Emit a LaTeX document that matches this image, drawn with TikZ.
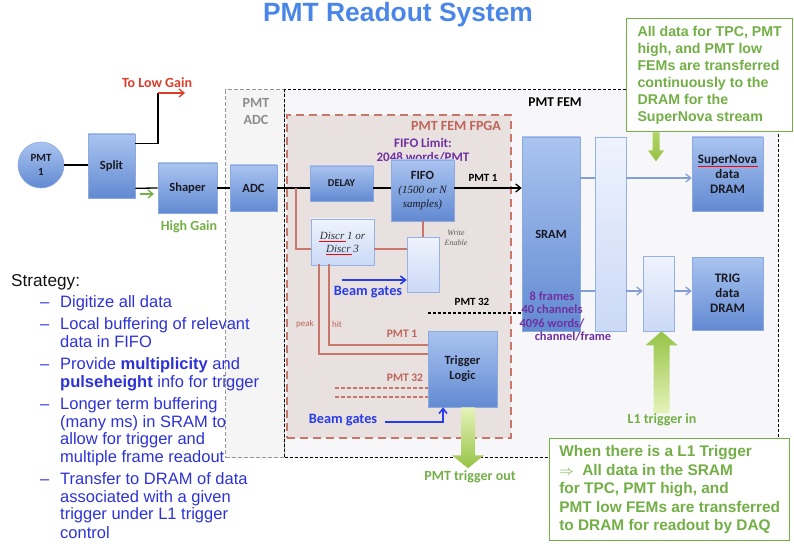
\documentclass[tikz,border=0pt]{standalone}
\usepackage{fontspec}
\setmainfont{Liberation Sans}
\newfontfamily\cbf{Carlito}
\newfontfamily\tms{Liberation Serif}
\usetikzlibrary{arrows.meta,calc}
\definecolor{titleblue}{RGB}{74,134,232}
\definecolor{stratblue}{RGB}{45,50,215}
\definecolor{cgreen}{RGB}{115,175,70}
\definecolor{purp}{RGB}{112,48,160}
\definecolor{brn}{RGB}{200,118,108}
\definecolor{brntxt}{RGB}{190,100,90}
\definecolor{fpgafill}{RGB}{233,224,224}
\definecolor{femfill}{RGB}{247,247,249}
\definecolor{adcfill}{RGB}{245,245,245}
\definecolor{boxtop}{RGB}{170,196,240}
\definecolor{boxbot}{RGB}{98,138,210}
\definecolor{boxedge}{RGB}{140,170,222}
\definecolor{ltop}{RGB}{238,243,253}
\definecolor{lbot}{RGB}{203,217,246}
\definecolor{ledge}{RGB}{150,178,228}
\definecolor{linkblue}{RGB}{130,160,215}
\definecolor{beamblue}{RGB}{40,60,235}
\definecolor{lowred}{RGB}{220,60,40}
\definecolor{arrgreen}{RGB}{150,195,70}
\definecolor{arrpale}{RGB}{230,243,185}
\definecolor{txtdark}{RGB}{25,25,35}
\begin{document}
\begin{tikzpicture}[x=1pt,y=-1pt,
  >={Straight Barb[length=5pt,width=8pt]},
  bbox/.style={draw=boxedge, line width=0.6pt, top color=boxtop, bottom color=boxbot,
    inner sep=0pt, align=center, text=txtdark, font=\cbf\bfseries\fontsize{12.5}{15}\selectfont},
  lbox/.style={draw=ledge, line width=0.6pt, top color=ltop, bottom color=lbot, inner sep=0pt, align=center},
  blk/.style={line width=1.3pt, black},
  brl/.style={line width=1.6pt, brn},
  lnk/.style={line width=1.3pt, linkblue},
  beam/.style={line width=1.6pt, beamblue},
  cb/.style={font=\cbf\bfseries\fontsize{#1}{#1}\selectfont, inner sep=0pt},
  strat/.style={font=\fontsize{16.5}{18}\selectfont, text=stratblue, inner sep=0pt, anchor=base west},
  callout/.style={draw=cgreen, line width=1.4pt, fill=white, text=cgreen, align=left, inner sep=4pt}
]
\useasboundingbox (0,0) rectangle (794,553);

% title
\node[font=\bfseries\fontsize{26.4}{30}\selectfont, text=titleblue, inner sep=0pt] (title) at (398,15) {PMT Readout System};

% containers
\node[draw={rgb,255:red,150;green,150;blue,150}, dash pattern=on 4pt off 2pt, line width=1.2pt, fill=adcfill,
  minimum width=59, minimum height=368, inner sep=0pt, anchor=north west] (adcbox) at (225,89) {};
\node[draw=black, dash pattern=on 3pt off 2pt, line width=1.2pt, fill=femfill,
  minimum width=494, minimum height=368, inner sep=0pt, anchor=north west] (fem) at (284,89) {};
\node[draw=brn, dash pattern=on 8pt off 5pt, line width=2.2pt, fill=fpgafill,
  minimum width=224, minimum height=323, inner sep=0pt, anchor=north west] (fpga) at (286,114) {};

\node[cb=14, text={rgb,255:red,140;green,140;blue,140}, align=center, font=\cbf\bfseries\fontsize{14}{17}\selectfont] (adclbl) at (256,111.5) {PMT\\ADC};
\node[cb=13.5, text=black] (femlbl) at (555,102) {PMT FEM};
\node[cb=14, text=brntxt] (fpgalbl) at (456,126) {PMT FEM FPGA};
\node[text=purp, align=center, inner sep=0pt, font=\cbf\bfseries\fontsize{13}{14}\selectfont] (fifolim) at (423,150) {FIFO Limit:\\2048 words/PMT};

% front end chain
\node[bbox, circle, minimum size=46, font=\cbf\bfseries\fontsize{11}{14}\selectfont] (pmt) at (41,165) {PMT\\1};
\node[bbox, minimum width=47, minimum height=64] (split) at (111.5,166) {Split};
\node[bbox, minimum width=59, minimum height=50] (shaper) at (187.5,188) {Shaper};
\node[bbox, minimum width=47, minimum height=46] (adc) at (253.5,188) {ADC};

\coordinate (ym) at (0,188);
\coordinate (lg) at (158,93);
\coordinate (lgend) at (185,93);
\coordinate (sA) at ($(split.north east)+(0,10)$);
\coordinate (sB) at ($(split.south east)+(0,-10)$);

\draw[blk] (pmt.east) -- (pmt.east -| split.west);
\draw[blk] (sA) -| (lg);
\draw[line width=1.3pt, lowred, ->] (lg) -- (lgend);
\node[cb=14, text=lowred] (lowlbl) at (157,83) {To Low Gain};
\draw[blk] (sB) -- (shaper.west);
\coordinate (ga1) at (140,194);
\coordinate (ga2) at (154,194);
\draw[line width=1.3pt, cgreen, ->] (ga1) -- (ga2);
\node[cb=14, text=cgreen] (highlbl) at (189,227) {High Gain};
\draw[blk] (shaper.east) -- (adc.west);

% FPGA internals
\node[bbox, minimum width=63, minimum height=35, font=\cbf\bfseries\fontsize{10.5}{12}\selectfont] (delay) at (341.5,183.5) {DELAY};
\node[bbox, minimum width=63, minimum height=61, font=\cbf\bfseries\fontsize{12.5}{14}\selectfont] (fifo) at (422.5,190.5)
  {FIFO\\{\tms\mdseries\itshape\fontsize{11}{14}\selectfont (1500 or N}\\{\tms\mdseries\itshape\fontsize{11}{14}\selectfont samples)}};
\node[lbox, minimum width=63, minimum height=46, text={rgb,255:red,50;green,50;blue,50},
  font=\tms\itshape\fontsize{11}{13}\selectfont] (disc) at (342.5,242) {Discr 1 or\\Discr 3};
\draw[red, line width=0.7pt] (319,241.5) -- (346,241.5);
\draw[red, line width=0.7pt] (326,254.5) -- (352,254.5);
\node[lbox, minimum width=32, minimum height=55] (we) at (423,264.5) {};
\node[text={rgb,255:red,90;green,90;blue,90}, align=center, inner sep=0pt, font=\tms\itshape\fontsize{8}{10}\selectfont] (welbl) at (456,237.5) {Write\\Enable};
\node[bbox, minimum width=69, minimum height=76, font=\cbf\bfseries\fontsize{12.5}{15}\selectfont] (trig) at (462.5,369) {Trigger\\Logic};

% main signal line
\draw[blk] (adc.east) -- (delay.west |- ym);
\draw[blk] (delay.east |- ym) -- (fifo.west |- ym);
\node[cb=11, text=black] (pmt1lbl) at (483,178) {PMT 1};

% brown links
\coordinate (jn) at (296,188);
\draw[brl] (jn) |- (disc.west |- 0,249);
\draw[brl] (disc.east |- 0,249) -- (we.west |- 0,249);
\draw[brl] (fifo.south -| we.north) -- (we.north);
\coordinate (pk) at (319,264);
\coordinate (ht) at (329,264);
\draw[brl] (pk) |- (trig.west |- 0,354);
\draw[brl] (ht) |- (trig.west |- 0,345);
\node[font=\cbf\fontsize{9}{9}\selectfont, text=brntxt, inner sep=0pt] (peaklbl) at (305,324) {peak};
\node[font=\cbf\fontsize{9}{9}\selectfont, text=brntxt, inner sep=0pt] (hitlbl) at (337,324) {hit};
\node[cb=11.5, text=brntxt] (p1b) at (402,334) {PMT 1};
\node[cb=11.5, text=brntxt] (p32b) at (405,378) {PMT 32};
\coordinate (d1) at (335,388);
\coordinate (d2) at (335,397);
\draw[brl, dash pattern=on 4pt off 2pt] (d1) -- (trig.west |- d1);
\draw[brl, dash pattern=on 4pt off 2pt] (d2) -- (trig.west |- d2);

% beam gates
\coordinate (bg1) at (342,280);
\draw[beam, ->] (bg1) -- (we.west |- bg1);
\node[cb=14.3, text=beamblue] (bglbl1) at (368,292) {Beam gates};
\coordinate (bg2) at (385,422);
\coordinate (bgc) at (443,422);
\draw[beam, ->] (bg2) -- (bgc) -- (bgc |- trig.south);
\node[cb=14.3, text=beamblue] (bglbl2) at (343,420) {Beam gates};

% FEM right side
\node[bbox, minimum width=58, minimum height=194] (sram) at (551,234) {SRAM};
\node[lbox, minimum width=31, minimum height=194] (tall) at (610.5,234) {};
\node[lbox, minimum width=31, minimum height=75] (small) at (658.5,293.5) {};
\node[bbox, minimum width=71, minimum height=74, font=\cbf\bfseries\fontsize{13}{15}\selectfont] (sn) at (727.5,174) {SuperNova\\data\\DRAM};
\draw[red, line width=0.8pt] (698,166) -- (758,166);
\node[bbox, minimum width=71, minimum height=73, font=\cbf\bfseries\fontsize{13}{15}\selectfont] (tdram) at (727.5,293.5) {TRIG\\data\\DRAM};

\draw[blk, ->] (fifo.east |- ym) -- (sram.west |- ym);
\coordinate (p32) at (428,313);
\draw[blk, dash pattern=on 3pt off 2pt] (p32) -- (sram.west |- p32);
\node[cb=11, text=black] (p32lbl) at (472,302) {PMT 32};

\coordinate (yA) at (0,178);
\coordinate (yB) at (0,291);
\draw[lnk] (sram.east |- yA) -- (tall.west |- yA);
\draw[lnk, ->] (tall.east |- yA) -- (sn.west |- yA);
\draw[lnk] (sram.east |- yB) -- (tall.west |- yB);
\draw[lnk, ->] (tall.east |- yB) -- (small.west |- yB);
\draw[lnk, ->] (small.east |- yB) -- (tdram.west |- yB);

\node[cb=12.4, text=purp] (sr1) at (552,296) {8 frames};
\node[cb=12.4, text=purp] (sr2) at (552,309) {40 channels};
\node[cb=12.4, text=purp] (sr3) at (552,323) {4096 words/};
\node[cb=12.4, text=purp] (sr4) at (573,336) {channel/frame};

% big green arrows
\shade[top color=arrpale, bottom color=arrgreen]
  ($(trig.south)+(-1.5,0)$) -- ($(trig.south)+(12.5,0)$) -- ($(trig.south)+(12.5,48)$) -- ($(trig.south)+(21.5,48)$)
  -- ($(trig.south)+(5.5,61)$) -- ($(trig.south)+(-10.5,48)$) -- ($(trig.south)+(-1.5,48)$) -- cycle;
\node[cb=14, text=cgreen] (toutlbl) at (470,477) {PMT trigger out};

\shade[top color=arrgreen, bottom color=arrpale]
  ($(small.south)+(-5,82)$) -- ($(small.south)+(11,82)$) -- ($(small.south)+(11,14)$) -- ($(small.south)+(19,14)$)
  -- ($(small.south)+(3,0)$) -- ($(small.south)+(-13,14)$) -- ($(small.south)+(-5,14)$) -- cycle;
\node[cb=14, text=cgreen] (l1lbl) at (662,420) {L1 trigger in};

% callouts
\node[callout, anchor=north west, minimum width=166, minimum height=113,
  font=\bfseries\fontsize{14.2}{17}\selectfont] (ctop) at (626,18)
  {All data for TPC, PMT\\high, and PMT low\\FEMs are transferred\\continuously to the\\DRAM for the\\SuperNova stream};
\shade[top color={rgb,255:red,175;green,212;blue,100}, bottom color=arrgreen]
  ($(ctop.south west)+(26.5,0)$) -- ($(ctop.south west)+(33.5,0)$) -- ($(ctop.south west)+(33.5,18)$) -- ($(ctop.south west)+(38,18)$)
  -- ($(ctop.south west)+(30,29)$) -- ($(ctop.south west)+(22,18)$) -- ($(ctop.south west)+(26.5,18)$) -- cycle;
\node[callout, anchor=north west, minimum width=240, minimum height=102,
  font=\bfseries\fontsize{15.4}{18.5}\selectfont] (cbot) at (549,438)
  {When there is a L1 Trigger\\$\Rightarrow$\ \ All data in the SRAM\\for TPC, PMT high, and\\PMT low FEMs are transferred\\to DRAM for readout by DAQ};

% strategy
\node[font=\fontsize{17.2}{18}\selectfont, text={rgb,255:red,20;green,20;blue,20}, inner sep=0pt, anchor=base west] (strathead) at (11,286) {Strategy:};
\foreach \yy in {307,329,369,409,484}
  \node[strat] (dash\yy) at (40,\yy) {–};
\foreach \yy/\txt in {307/Digitize all data, 329/Local buffering of relevant, 347/data in FIFO,
  369/Provide \textbf{multiplicity} and, 387/\textbf{pulseheight} info for trigger,
  409/Longer term buffering, 427/(many ms) in SRAM to, 444/allow for trigger and, 462/multiple frame readout,
  484/Transfer to DRAM of data, 502/associated with a given, 519/trigger under L1 trigger, 538/control}
  \node[strat] (st\yy) at (60,\yy) {\txt};
\end{tikzpicture}
\end{document}
